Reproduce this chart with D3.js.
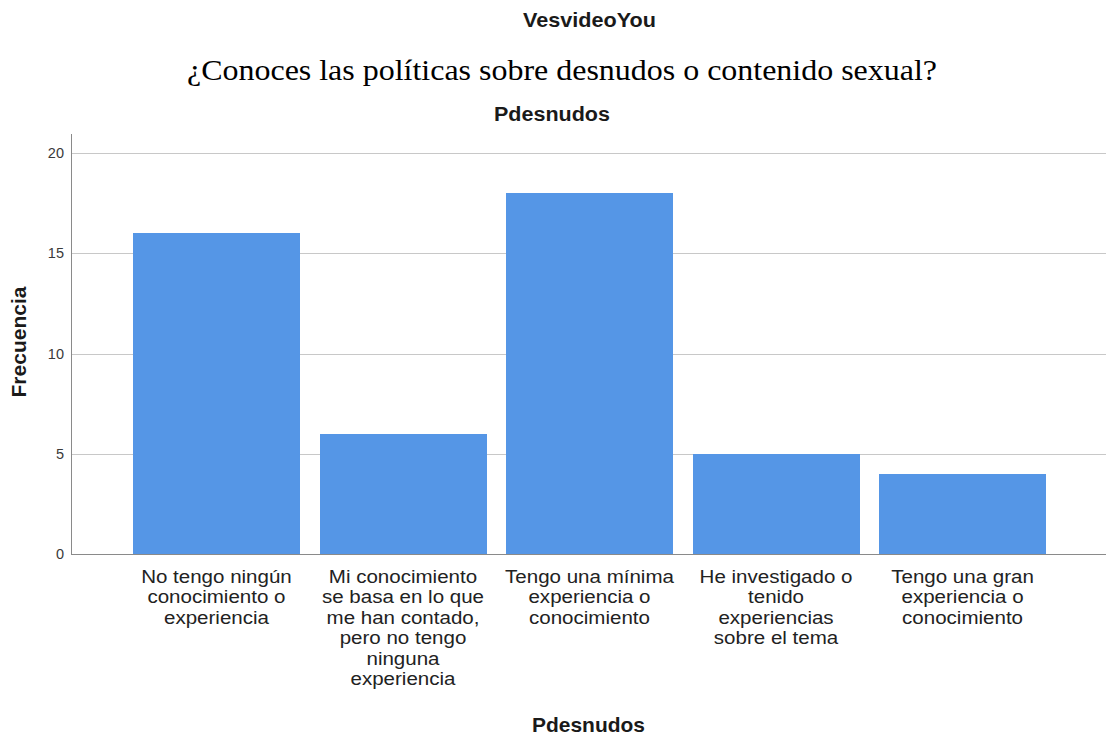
<!DOCTYPE html>
<html><head><meta charset="utf-8">
<script src="https://cdn.jsdelivr.net/npm/d3@7"></script>
<style>body{margin:0;background:#fff}</style>
</head><body>
<svg id="c" width="1110" height="738"></svg>
<script>
const categories = [
  ["No tengo ningún", "conocimiento o", "experiencia"],
  ["Mi conocimiento", "se basa en lo que", "me han contado,", "pero no tengo", "ninguna", "experiencia"],
  ["Tengo una mínima", "experiencia o", "conocimiento"],
  ["He investigado o", "tenido", "experiencias", "sobre el tema"],
  ["Tengo una gran", "experiencia o", "conocimiento"]
];
const values = [16, 6, 18, 5, 4];
const yTicks = [0, 5, 10, 15, 20];

const svg = d3.select("#c");
const pL = 71, pR = 1106, pT = 133, pB = 554;
const sans = "Liberation Sans, Arial, sans-serif";

const x = d3.scaleBand().domain(d3.range(values.length)).range([pL + 1, pR + 1]).paddingInner(0.105).paddingOuter(0.327);
const y = d3.scaleLinear().domain([0, 21]).range([pB, pT]);

// gridlines
svg.append("g").selectAll("line").data(yTicks.filter(d => d > 0)).join("line")
  .attr("x1", pL).attr("x2", pR).attr("y1", d => Math.round(y(d)) + 0.5).attr("y2", d => Math.round(y(d)) + 0.5)
  .attr("stroke", "#c8c8c8").attr("stroke-width", 1);

// bars
svg.append("g").selectAll("rect").data(values).join("rect")
  .attr("x", (d, i) => Math.round(x(i))).attr("width", Math.round(x.bandwidth()))
  .attr("y", d => Math.round(y(d))).attr("height", d => Math.round(y(0)) - Math.round(y(d)))
  .attr("fill", "#5596e6").attr("shape-rendering", "crispEdges");

// y axis
const yAxis = d3.axisLeft(y).tickValues(yTicks).tickSize(0).tickPadding(7);
const gy = svg.append("g").attr("transform", `translate(${pL},0)`).call(yAxis);
gy.select(".domain").attr("stroke", "#8a8a8a").attr("shape-rendering", "crispEdges");
gy.selectAll("text").attr("font-family", sans).attr("font-size", 14.5).attr("fill", "#3a3a3a");

// x axis baseline
svg.append("line").attr("x1", pL).attr("x2", pR).attr("y1", pB + 0.5).attr("y2", pB + 0.5)
  .attr("stroke", "#8a8a8a");

// category labels
const lab = svg.append("g");
categories.forEach((lines, i) => {
  const cx = x(i) + x.bandwidth() / 2;
  const t = lab.append("text").attr("text-anchor", "middle")
    .attr("transform", `translate(${cx},0) scale(1.11,1)`)
    .attr("font-family", sans).attr("font-size", 18.5).attr("fill", "#222");
  lines.forEach((ln, j) => {
    t.append("tspan").attr("x", 0).attr("y", 583 + j * 20.4).text(ln);
  });
});

// titles
function title(txt, cx, cy, size, len, opts = {}) {
  const t = svg.append("text").attr("x", cx).attr("y", cy).attr("text-anchor", "middle")
    .attr("font-family", opts.font || sans).attr("font-weight", opts.weight || "bold")
    .attr("font-size", size).attr("fill", opts.fill || "#1a1a1a")
    .attr("textLength", len).attr("lengthAdjust", "spacingAndGlyphs").text(txt);
  if (opts.rotate) t.attr("transform", `rotate(-90,${cx},${cy})`);
  return t;
}
title("VesvideoYou", 589.5, 27, 21, 133);
title("¿Conoces las políticas sobre desnudos o contenido sexual?", 562, 80, 30, 750,
  { font: "Liberation Serif, Times New Roman, serif", weight: "normal", fill: "#000" });
title("Pdesnudos", 552, 121, 19.5, 116);
title("Pdesnudos", 588.5, 732, 21, 113);
title("Frecuencia", 26, 342, 21, 111, { rotate: true });
</script>
</body></html>
